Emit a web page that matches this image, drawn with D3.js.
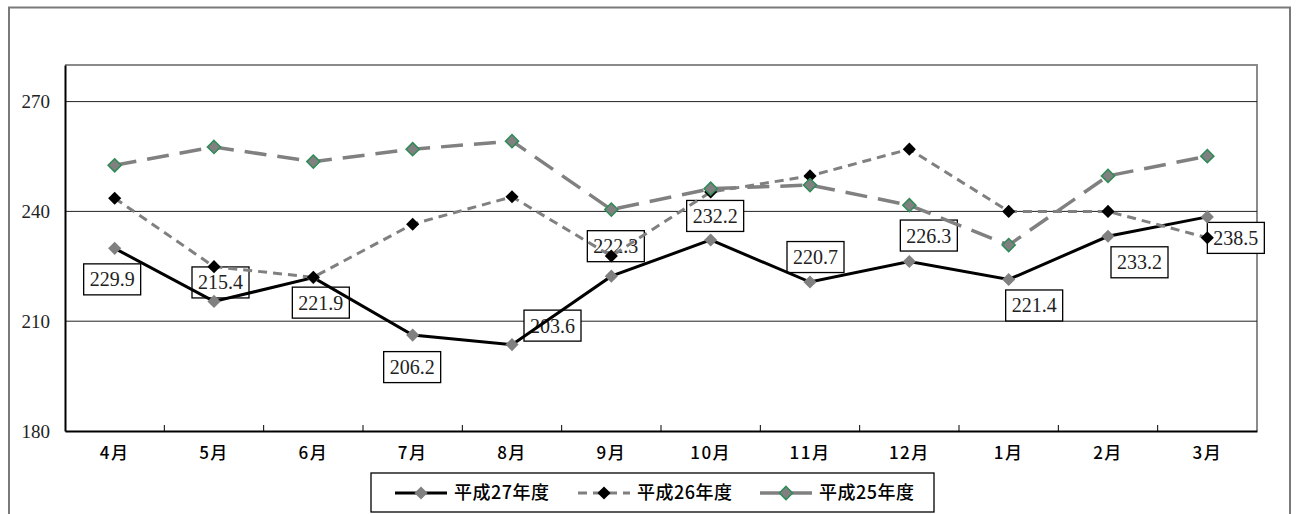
<!DOCTYPE html>
<html>
<head>
<meta charset="utf-8">
<script src="https://cdn.jsdelivr.net/npm/d3@7"></script>
<style>
  html, body { margin: 0; padding: 0; background: #fff; }
  svg { display: block; }
</style>
</head>
<body>
<svg id="chart" width="1296" height="514"></svg>
<script>
// Monthly figures by fiscal year (April–March)
const months = ["4月", "5月", "6月", "7月", "8月", "9月", "10月", "11月", "12月", "1月", "2月", "3月"];
const h27 = [229.9, 215.4, 221.9, 206.2, 203.6, 222.3, 232.2, 220.7, 226.3, 221.4, 233.2, 238.5];
const h26 = [243.6, 224.9, 222.0, 236.5, 244.0, 227.8, 245.3, 249.7, 257.0, 240.0, 240.0, 232.8];
const h25 = [252.6, 257.6, 253.6, 257.0, 259.2, 240.5, 246.2, 247.2, 241.7, 230.8, 249.7, 255.1];
const seriesNames = ["平成27年度", "平成26年度", "平成25年度"];
const yTicks = [180, 210, 240, 270];

// Label placement for the 平成27年度 value boxes (offset of box centre from point)
const labelOffsets = [[-3, 31], [6, -19], [7, 25], [-1, 32], [40, -19], [4, -30],
                      [4, -24], [5, -25], [19, -26], [25, 26], [31, 26], [28, 21]];

const svg = d3.select("#chart");
const plot = { left: 65, right: 1257, top: 65, bottom: 431 };

const x = d3.scaleBand().domain(months).range([plot.left, plot.right]).padding(0);
const y = d3.scaleLinear().domain([180, 280]).range([plot.bottom, plot.top]);
const cx = m => x(m) + x.bandwidth() / 2;

// Outer chart frame
svg.append("rect")
  .attr("x", 9).attr("y", 7.5).attr("width", 1281).attr("height", 520)
  .attr("fill", "none").attr("stroke", "#7a7a7a").attr("stroke-width", 2);

// Plot area border (top/right grey)
svg.append("path")
  .attr("d", `M${plot.left},${plot.top}H${plot.right}V${plot.bottom}`)
  .attr("fill", "none").attr("stroke", "#8a8a8a").attr("stroke-width", 2);

// Horizontal gridlines
svg.append("g").selectAll("line")
  .data(yTicks.filter(v => v > 180))
  .join("line")
  .attr("x1", plot.left).attr("x2", plot.right)
  .attr("y1", d => y(d)).attr("y2", d => y(d))
  .attr("stroke", "#222").attr("stroke-width", 1);

// Y axis
const yAxis = svg.append("g")
  .attr("transform", `translate(${plot.left},0)`)
  .call(d3.axisLeft(y).tickValues(yTicks).tickSize(0).tickPadding(15).tickFormat(d3.format("d")));
yAxis.select(".domain").attr("stroke", "#000").attr("stroke-width", 2);
yAxis.selectAll("text")
  .attr("font-family", "'Liberation Serif', 'DejaVu Serif', serif")
  .attr("font-size", 19).attr("fill", "#222");

// X axis with inward ticks at category boundaries
const xAxis = svg.append("g")
  .attr("transform", `translate(0,${plot.bottom})`)
  .call(d3.axisBottom(x).tickSize(0).tickPadding(16));
xAxis.select(".domain").attr("stroke", "#000").attr("stroke-width", 2);
xAxis.selectAll("text")
  .attr("font-family", "'Noto Sans CJK JP', 'Noto Sans', sans-serif")
  .attr("font-weight", 500)
  .attr("font-size", 17).attr("letter-spacing", 1.5).attr("fill", "#000");
svg.append("g").selectAll("line")
  .data(months.slice(1))
  .join("line")
  .attr("x1", d => x(d)).attr("x2", d => x(d))
  .attr("y1", plot.bottom).attr("y2", plot.bottom - 6)
  .attr("stroke", "#000").attr("stroke-width", 1);

// Value boxes for 平成27年度
const labels = svg.append("g").selectAll("g")
  .data(h27.map((v, i) => ({ v, m: months[i], o: labelOffsets[i] })))
  .join("g")
  .attr("transform", d => `translate(${cx(d.m) + d.o[0]},${y(d.v) + d.o[1]})`);
labels.append("rect")
  .attr("x", -28).attr("y", -15.5).attr("width", 57).attr("height", 31)
  .attr("fill", "#fff").attr("stroke", "#000").attr("stroke-width", 1.3);
labels.append("text")
  .attr("x", 0.5)
  .attr("text-anchor", "middle").attr("dy", "0.35em")
  .attr("font-family", "'Liberation Serif', 'DejaVu Serif', serif")
  .attr("font-size", 20).attr("fill", "#222")
  .text(d => d.v.toFixed(1));

const diamond = d3.symbol().type(d3.symbolDiamond2).size(110);
const styles = [
  { data: h27, stroke: "#000", width: 3, dash: null, mFill: "#808080", mStroke: "none" },
  { data: h26, stroke: "#808080", width: 3, dash: "9,6", mFill: "#000", mStroke: "none" },
  { data: h25, stroke: "#808080", width: 3.5, dash: "22,11", mFill: "#808080", mStroke: "#2e8b57" }
];
const line = d3.line().x((d, i) => cx(months[i])).y(d => y(d));

styles.forEach(s => {
  svg.append("path")
    .attr("d", line(s.data))
    .attr("fill", "none").attr("stroke", s.stroke).attr("stroke-width", s.width)
    .attr("stroke-dasharray", s.dash);
  svg.append("g").selectAll("path")
    .data(s.data)
    .join("path")
    .attr("d", diamond)
    .attr("transform", (d, i) => `translate(${cx(months[i])},${y(d)})`)
    .attr("fill", s.mFill).attr("stroke", s.mStroke).attr("stroke-width", 1.5);
});

// Legend
const legend = svg.append("g");
legend.append("rect")
  .attr("x", 371).attr("y", 473).attr("width", 563).attr("height", 39)
  .attr("fill", "#fff").attr("stroke", "#000").attr("stroke-width", 1.3);
const legendX = [395, 578, 760];
styles.forEach((s, i) => {
  const lx = legendX[i], ly = 493;
  legend.append("line")
    .attr("x1", lx).attr("x2", lx + 52).attr("y1", ly).attr("y2", ly)
    .attr("stroke", s.stroke).attr("stroke-width", s.width)
    .attr("stroke-dasharray", i === 1 ? "9,6" : null);
  legend.append("path")
    .attr("d", diamond)
    .attr("transform", `translate(${lx + 26},${ly})`)
    .attr("fill", s.mFill).attr("stroke", s.mStroke).attr("stroke-width", 1.5);
  legend.append("text")
    .attr("x", lx + 59).attr("y", ly).attr("dy", "0.36em")
    .attr("font-family", "'Noto Sans CJK JP', 'Noto Sans', sans-serif")
    .attr("font-weight", 500)
    .attr("font-size", 18).attr("letter-spacing", 0.5).attr("fill", "#000")
    .text(seriesNames[i]);
});
</script>
</body>
</html>
